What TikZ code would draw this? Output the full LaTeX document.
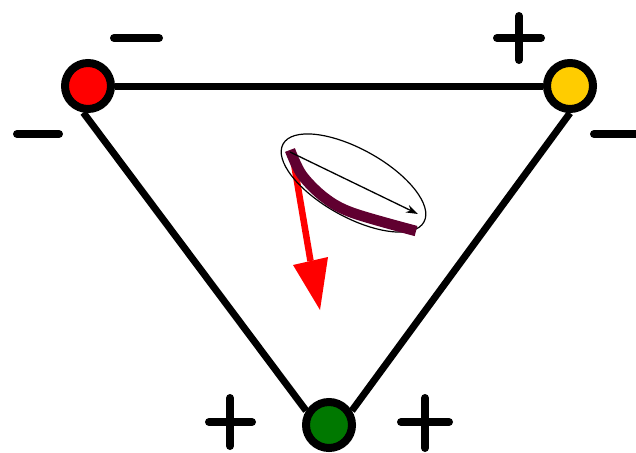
\documentclass[tikz,border=0pt]{standalone}
\usetikzlibrary{shapes.geometric,backgrounds,arrows.meta}
\definecolor{myred}{RGB}{255,0,0}
\definecolor{myyellow}{RGB}{255,204,0}
\definecolor{mygreen}{RGB}{0,120,0}
\definecolor{mypurple}{RGB}{96,0,48}
\begin{document}
\begin{tikzpicture}[x=1pt,y=-1pt,
  pole/.style={circle,draw=black,line width=8pt,inner sep=0pt,minimum size=46pt},
  edge/.style={line width=7pt},
  sign/.style={line width=8pt,line cap=round}]
\useasboundingbox (0,0) rectangle (636,452);
% poles
\node[pole,fill=myred] (red) at (88,86) {};
\node[pole,fill=myyellow] (yellow) at (570,86) {};
\node[pole,fill=mygreen] (green) at (329,425) {};
\begin{scope}[on background layer]
\draw[edge] (red) -- (yellow);
\draw[edge] (red.260) -- (green.148);
\draw[edge] (yellow.270) -- (green.32);
\end{scope}
% signs
\draw[sign] (114,38) -- (159,38);
\draw[sign] (17,134) -- (59,134);
\draw[sign] (497,38) -- (541,38) (519,16) -- (519,60);
\draw[sign] (594,134) -- (640,134);
\draw[sign] (209,422) -- (252,422) (230,398) -- (230,446);
\draw[sign] (401,422) -- (449,422) (425,398) -- (425,448);
% center figure
\coordinate (o) at (290,152);
\coordinate (hb) at (310.5,261);
\coordinate (tip) at (320,310);
\draw[line width=6.5pt,myred] (292,152) -- (hb);
\fill[myred] (293,265) -- (328,257) -- (tip) -- cycle;
\node[ellipse,draw,line width=1.2pt,inner sep=0pt,minimum width=161pt,minimum height=68pt,rotate=-29] (ell) at (353.5,183) {};
\draw[line width=10.5pt,mypurple] plot[smooth,tension=0.55] coordinates {(290,150) (302,175) (325,198) (353,213) (416,231)};
\coordinate (ae) at (418,214);
\draw[line width=1.3pt,-{Stealth[length=12pt,width=8pt]}] (o) -- (ae);
\end{tikzpicture}
\end{document}
